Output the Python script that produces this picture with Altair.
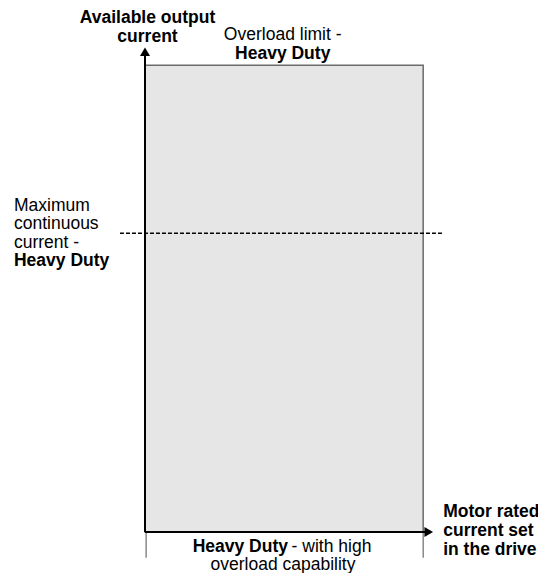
import altair as alt
import pandas as pd

# ---- values (x: fraction of rated current, y: % output current)
rated_current = 1.0          # right edge of the Heavy Duty area
overload_limit = 150         # top of the shaded area
max_continuous = 96          # dashed line
x_axis_end = 1.036
y_axis_end = 155.8
dash_x = [-0.09, 1.072]

# ---- text labels: (text, x, y baseline, weight, align)
label_text = ["Available output", "current",
              "Overload limit -", "Heavy Duty",
              "Maximum", "continuous", "current -", "Heavy Duty",
              "Heavy Duty", "- with high", "overload capability",
              "Motor rated", "current set", "in the drive"]
label_x = [0.009, 0.009,
           0.495, 0.495,
           -0.471, -0.471, -0.471, -0.471,
           0.514, 0.527, 0.496,
           1.072, 1.072, 1.072]
label_y = [163.5, 157.4,
           158.0, 151.9,
           103.1, 97.2, 91.3, 85.4,
           -6.3, -6.3, -12.2,
           4.8, -1.3, -7.4]
label_weight = ["bold", "bold",
                "normal", "bold",
                "normal", "normal", "normal", "bold",
                "bold", "normal", "normal",
                "bold", "bold", "bold"]
label_align = ["center", "center",
               "center", "center",
               "left", "left", "left", "left",
               "right", "left", "center",
               "left", "left", "left"]

FONT = "Liberation Sans"
xs = alt.Scale(domain=[0, 1.1])
ys = alt.Scale(domain=[0, 160])

rect_df = pd.DataFrame({"x": [0], "x2": [rated_current], "y": [0], "y2": [overload_limit]})
area = alt.Chart(rect_df).mark_rect(fill="#e6e6e6", stroke="#6b6b6b", strokeWidth=1.5).encode(
    x=alt.X("x:Q", scale=xs, axis=None), x2="x2:Q",
    y=alt.Y("y:Q", scale=ys, axis=None), y2="y2:Q")

dash_df = pd.DataFrame({"x": [dash_x[0]], "x2": [dash_x[1]], "y": [max_continuous]})
dash = alt.Chart(dash_df).mark_rule(color="black", strokeWidth=1.5, strokeDash=[4, 2]).encode(
    x=alt.X("x:Q", scale=xs, axis=None), x2="x2:Q",
    y=alt.Y("y:Q", scale=ys, axis=None))

ticks_df = pd.DataFrame({"x": [0.004, rated_current], "y": [0, 0], "y2": [-8.3, -8.3]})
ticks = alt.Chart(ticks_df).mark_rule(color="#6b6b6b", strokeWidth=1.2).encode(
    x=alt.X("x:Q", scale=xs, axis=None),
    y=alt.Y("y:Q", scale=ys, axis=None), y2="y2:Q")

xaxis_df = pd.DataFrame({"x": [0], "x2": [x_axis_end - 0.02], "y": [0]})
xaxis = alt.Chart(xaxis_df).mark_rule(color="black", strokeWidth=2).encode(
    x=alt.X("x:Q", scale=xs, axis=None), x2="x2:Q",
    y=alt.Y("y:Q", scale=ys, axis=None))

yaxis_df = pd.DataFrame({"x": [0], "y": [0], "y2": [y_axis_end - 2]})
yaxis = alt.Chart(yaxis_df).mark_rule(color="black", strokeWidth=2).encode(
    x=alt.X("x:Q", scale=xs, axis=None),
    y=alt.Y("y:Q", scale=ys, axis=None), y2="y2:Q")

head_df = pd.DataFrame({"x": [0, x_axis_end - 0.016], "y": [y_axis_end - 1.5, 0],
                        "shape": ["triangle-up", "triangle-right"]})
heads = alt.Chart(head_df).mark_point(filled=True, color="black", opacity=1, size=100).encode(
    x=alt.X("x:Q", scale=xs, axis=None),
    y=alt.Y("y:Q", scale=ys, axis=None),
    shape=alt.Shape("shape:N", scale=None))

lab_df = pd.DataFrame({"text": label_text, "x": label_x, "y": label_y,
                       "w": label_weight, "a": label_align})
texts = []
for w in ["bold", "normal"]:
    for a in ["left", "center", "right"]:
        sub = lab_df[(lab_df.w == w) & (lab_df.a == a)]
        if len(sub) == 0:
            continue
        texts.append(alt.Chart(sub).mark_text(
            font=FONT, fontSize=17.5, fontWeight=w, align=a, baseline="alphabetic",
            color="black").encode(
            x=alt.X("x:Q", scale=xs, axis=None),
            y=alt.Y("y:Q", scale=ys, axis=None),
            text="text:N"))

chart = alt.layer(area, dash, ticks, xaxis, yaxis, heads, *texts).properties(
    width=306, height=498,
    autosize=alt.AutoSizeParams(type="none"),
    padding={"left": 137, "top": 26, "right": 87, "bottom": 41},
).configure_view(stroke=None)

chart.save("out.html", embed_options={"renderer": "svg", "actions": False})
